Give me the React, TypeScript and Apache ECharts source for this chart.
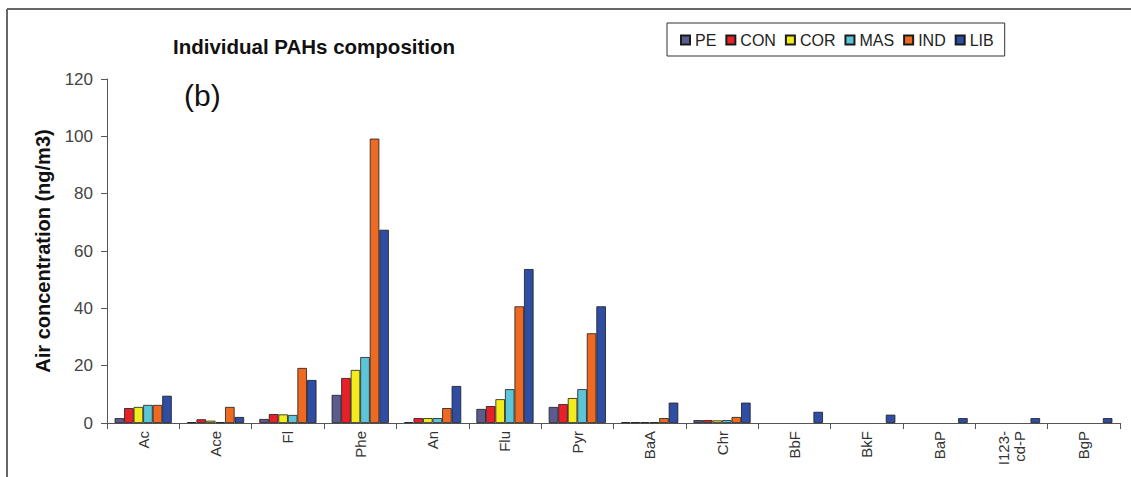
import React, { useEffect, useRef } from "react";
import * as echarts from "echarts";

const categories = ["Ac", "Ace", "Fl", "Phe", "An", "Flu", "Pyr", "BaA", "Chr", "BbF", "BkF", "BaP", "I123-\ncd-P", "BgP"];
const seriesNames = ["PE", "CON", "COR", "MAS", "IND", "LIB"];
const colors = ["#5B5B8E", "#E8202A", "#F2EC1C", "#5CC6D8", "#EE6A22", "#2F4DA2"];
const PE = [1.7, 0.3, 1.4, 9.8, 0.3, 4.9, 5.6, 0.3, 1.0, 0, 0, 0, 0, 0];
const CON = [5.2, 1.3, 3.1, 15.7, 1.7, 5.9, 6.6, 0.3, 1.0, 0, 0, 0, 0, 0];
const COR = [5.6, 0.8, 3.0, 18.5, 1.7, 8.3, 8.7, 0.3, 0.9, 0, 0, 0, 0, 0];
const MAS = [6.3, 0.3, 2.8, 23.0, 1.7, 11.8, 11.8, 0.3, 1.0, 0, 0, 0, 0, 0];
const IND = [6.3, 5.6, 19.2, 99.2, 5.2, 40.7, 31.3, 1.7, 2.1, 0, 0, 0, 0, 0];
const LIB = [9.5, 2.1, 15.0, 67.4, 12.9, 53.7, 40.7, 7.1, 7.1, 3.9, 2.9, 1.7, 1.7, 1.7];
const yTicks = { min: 0, max: 120, interval: 20 };
const seriesData = [PE, CON, COR, MAS, IND, LIB];

const FONT = "'Liberation Sans', Arial, sans-serif";

export default function App() {
  const ref = useRef<HTMLDivElement>(null);
  useEffect(() => {
    if (!ref.current) return;
    const chart = echarts.init(ref.current, null, { renderer: "svg" });
    chart.setOption({
      animation: false,
      backgroundColor: "#ffffff",
      textStyle: { fontFamily: FONT },
      grid: { left: 107, right: 11, top: 79, bottom: 54, containLabel: false },
      title: {
        text: "Individual PAHs composition",
        left: 309,
        textAlign: "center",
        top: 31,
        textStyle: { fontFamily: FONT, fontWeight: "bold", fontSize: 20.5, color: "#111" },
      },
      legend: {
        data: seriesNames,
        left: 667,
        top: 23,
        padding: [9, 11, 8, 13],
        borderColor: "#333",
        borderWidth: 1,
        itemWidth: 9,
        itemHeight: 9,
        itemGap: 9,
        icon: "rect",
        textStyle: { fontFamily: FONT, fontSize: 16, color: "#222" },
      },
      graphic: [
        { type: "line", shape: { x1: 7, y1: 9, x2: 1131, y2: 9 }, style: { stroke: "#666", lineWidth: 2 } },
        { type: "line", shape: { x1: 7, y1: 9, x2: 7, y2: 477 }, style: { stroke: "#666", lineWidth: 2 } },
        {
          type: "text",
          left: 184,
          top: 80,
          style: { text: "(b)", font: `30px ${FONT}`, fill: "#111" },
        },
      ],
      xAxis: {
        type: "category",
        data: categories,
        axisLine: { lineStyle: { color: "#555", width: 1 } },
        axisTick: { show: true, alignWithLabel: false, length: 6, lineStyle: { color: "#555" } },
        axisLabel: {
          rotate: 90,
          interval: 0,
          fontFamily: FONT,
          fontSize: 15,
          color: "#333",
          margin: 8,
          lineHeight: 16,
        },
      },
      yAxis: {
        type: "value",
        min: yTicks.min,
        max: yTicks.max,
        interval: yTicks.interval,
        name: "Air concentration (ng/m3)",
        nameLocation: "middle",
        nameRotate: 90,
        nameGap: 54,
        nameTextStyle: { fontFamily: FONT, fontWeight: "bold", fontSize: 20, color: "#111" },
        axisLine: { show: true, lineStyle: { color: "#555", width: 1 } },
        axisTick: { show: true, length: 6, lineStyle: { color: "#555" } },
        splitLine: { show: false },
        axisLabel: { fontFamily: FONT, fontSize: 17, color: "#444", margin: 14 },
      },
      series: seriesNames.map((name, i) => ({
        name,
        type: "bar",
        data: seriesData[i].map((v) => (v === 0 ? { value: 0, itemStyle: { borderWidth: 0 } } : v)),
        barGap: "0%",
        barCategoryGap: "21%",
        itemStyle: { color: colors[i], borderColor: "#1a1a1a", borderWidth: 0.8 },
      })),
    });
    return () => chart.dispose();
  }, []);
  return <div ref={ref} style={{ position: "fixed", left: 0, top: 0, width: 1131, height: 477 }} />;
}
